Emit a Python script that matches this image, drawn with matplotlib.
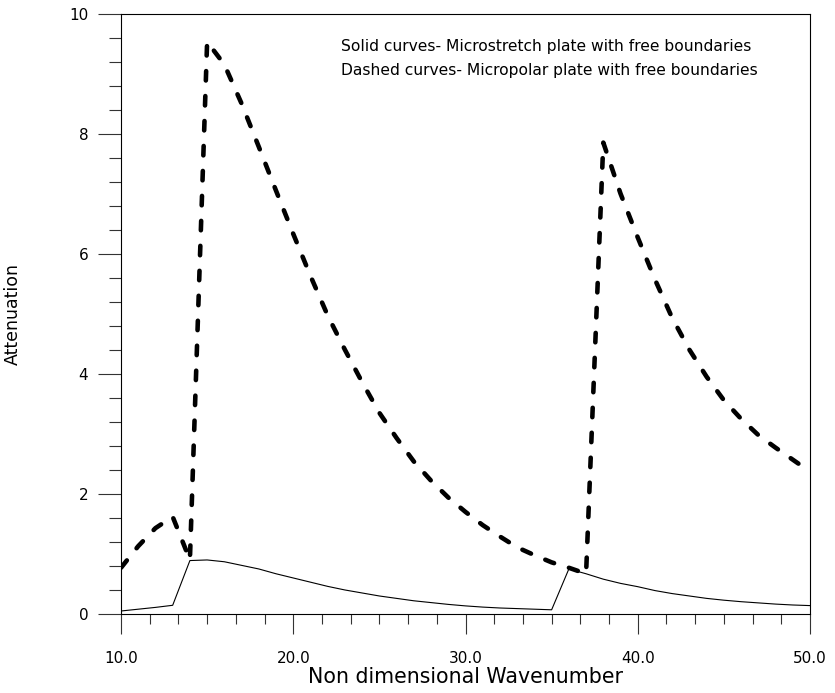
import matplotlib
matplotlib.use("Agg")
import matplotlib.pyplot as plt
from matplotlib.ticker import MultipleLocator, FormatStrFormatter

wavenumber = list(range(10, 51))

microstretch = [0.05, 0.08, 0.11, 0.145, 0.89, 0.90, 0.87, 0.81, 0.75, 0.67,
                0.60, 0.53, 0.46, 0.40, 0.35, 0.30, 0.26, 0.22, 0.19, 0.16,
                0.135, 0.115, 0.10, 0.09, 0.08, 0.07, 0.75, 0.67, 0.58, 0.51,
                0.455, 0.39, 0.34, 0.30, 0.26, 0.23, 0.205, 0.185, 0.165, 0.15,
                0.14]

micropolar = [0.77, 1.13, 1.43, 1.62, 0.90, 9.53, 9.15, 8.50, 7.78, 7.05,
              6.33, 5.63, 4.97, 4.40, 3.86, 3.35, 2.93, 2.54, 2.22, 1.94,
              1.70, 1.48, 1.29, 1.11, 0.98, 0.86, 0.77, 0.67, 7.85, 7.00,
              6.27, 5.57, 4.93, 4.40, 3.95, 3.56, 3.25, 2.98, 2.77, 2.57,
              2.37]

note_lines = ["Solid curves- Microstretch plate with free boundaries",
              "Dashed curves- Micropolar plate with free boundaries"]

plt.rcParams['font.family'] = ['DejaVu Sans']

fig = plt.figure(figsize=(8.35, 6.93), dpi=100)
ax = fig.add_axes([121/835, 1 - 614/693, (810-121)/835, (614-13.5)/693])

ax.plot(wavenumber, microstretch, color='black', lw=0.8)
ln, = ax.plot(wavenumber, micropolar, color='black', lw=3.3,
              dash_capstyle='round', solid_capstyle='round')
ln.set_dashes((2.05, 3.4))

ax.set_xlim(10, 50)
ax.set_ylim(0, 10)
ax.xaxis.set_major_locator(MultipleLocator(10))
ax.xaxis.set_minor_locator(MultipleLocator(10/6))
ax.xaxis.set_major_formatter(FormatStrFormatter('%.1f'))
ax.yaxis.set_major_locator(MultipleLocator(2))
ax.yaxis.set_minor_locator(MultipleLocator(0.4))

ax.tick_params(axis='y', which='major', direction='out', length=16.5, width=0.8,
               pad=7, labelsize=11, color='#333333')
ax.tick_params(axis='y', which='minor', direction='out', length=8.6, width=0.8,
               color='#333333')
ax.tick_params(axis='x', which='major', direction='out', length=14.4, width=0.8,
               pad=12, labelsize=11, color='#333333')
ax.tick_params(axis='x', which='minor', direction='out', length=7.2, width=0.8,
               color='#333333')
for s in ax.spines.values():
    s.set_linewidth(0.8)

ax.set_xlabel("Non dimensional Wavenumber", fontsize=14.8, labelpad=1)
ax.set_ylabel("Attenuation", fontsize=12.5)
ax.yaxis.set_label_coords((22-121)/689, 0.5)

ax.text((341-121)/689, 1-(47-13.5)/600.5, note_lines[0], transform=ax.transAxes,
        fontsize=11.2, va='center', ha='left')
ax.text((341-121)/689, 1-(70-13.5)/600.5, note_lines[1], transform=ax.transAxes,
        fontsize=11.2, va='center', ha='left')

fig.savefig("out.png", dpi=100)
